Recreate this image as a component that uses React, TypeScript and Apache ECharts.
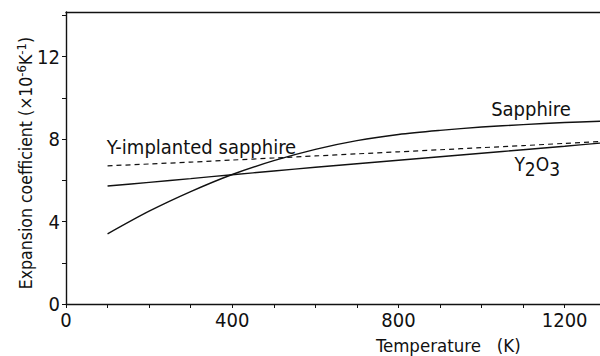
import React, { useEffect, useRef } from "react";
import * as echarts from "echarts";

// Temperature samples (K)
const temps = [100, 200, 300, 400, 500, 600, 700, 800, 900, 1000, 1100, 1200, 1285];
// Expansion coefficient (x10^-6 K^-1)
const sapphire = [3.4, 4.5, 5.45, 6.28, 6.95, 7.5, 7.92, 8.22, 8.42, 8.58, 8.7, 8.8, 8.86];
const y2o3 = [5.72, 5.9, 6.08, 6.27, 6.45, 6.63, 6.8, 6.97, 7.14, 7.31, 7.48, 7.65, 7.8];
const yImplanted = [6.7, 6.79, 6.88, 6.98, 7.08, 7.18, 7.28, 7.38, 7.48, 7.58, 7.68, 7.79, 7.88];

const xTickLabels = [0, 400, 800, 1200];
const yTickLabels = [0, 4, 8, 12];

// Annotation anchors in data space [T, value]
const sapphireLabelAt = [1119, 9.47];
const y2o3LabelAt = [1134, 6.8];
const implantedLabelAt = [326, 7.62];
const xTitleAt = [920, -2.0];

const NUM_FONT = "'Liberation Sans Narrow', 'DejaVu Sans Condensed', sans-serif";
const TXT_FONT = "'DejaVu Sans Condensed', 'DejaVu Sans', sans-serif";
const INK = "#111";

const pairs = (ys: number[]) => temps.map((t, i) => [t, ys[i]]);

export default function App() {
  const ref = useRef<HTMLDivElement>(null);

  useEffect(() => {
    if (!ref.current) return;
    const chart = echarts.init(ref.current, null, { renderer: "svg" });

    const lineStyle = { color: INK, width: 1.4 };
    chart.setOption({
      animation: false,
      backgroundColor: "#fff",
      grid: { left: 66, right: 0, top: 12, bottom: 52, containLabel: false },
      xAxis: [
        {
          type: "value",
          min: 0,
          max: 1285,
          interval: 100,
          axisLine: { show: true, onZero: false, lineStyle: { color: INK, width: 1.4 } },
          axisTick: { show: true, length: 4, lineStyle: { color: INK } },
          splitLine: { show: false },
          axisLabel: {
            color: INK,
            fontFamily: NUM_FONT,
            fontSize: 20,
            margin: 6,
            showMaxLabel: false,
            formatter: (v: number) => (xTickLabels.includes(v) ? String(v) : ""),
          },
        },
        {
          type: "value",
          position: "top",
          min: 0,
          max: 1285,
          axisLine: { show: true, onZero: false, lineStyle: { color: INK, width: 1.4 } },
          axisTick: { show: false },
          axisLabel: { show: false },
          splitLine: { show: false },
        },
      ],
      yAxis: {
        type: "value",
        min: 0,
        max: 14.16,
        interval: 2,
        axisLine: { show: true, onZero: false, lineStyle: { color: INK, width: 1.4 } },
        axisTick: { show: true, length: 4, lineStyle: { color: INK } },
        splitLine: { show: false },
        axisLabel: {
          color: INK,
          fontFamily: NUM_FONT,
          fontSize: 20,
          margin: 6,
          showMaxLabel: false,
          formatter: (v: number) => (yTickLabels.includes(v) ? String(v) : ""),
        },
        name: "Expansion coefficient (×10{sup|-6}K{sup|-1})",
        nameLocation: "middle",
        nameGap: 29,
        nameMoveOverlap: false,
        nameRotate: 90,
        nameTextStyle: {
          color: INK,
          fontFamily: TXT_FONT,
          fontSize: 17.5,
          padding: [0, 10, 0, 0],
          rich: {
            sup: { fontFamily: TXT_FONT, fontSize: 13, color: INK, padding: [0, 0, 9, 0] },
          },
        },
      },
      series: [
        {
          name: "Sapphire",
          type: "line",
          data: pairs(sapphire),
          smooth: 0.3,
          showSymbol: false,
          lineStyle: { ...lineStyle },
        },
        {
          name: "Y2O3",
          type: "line",
          data: pairs(y2o3),
          smooth: 0.3,
          showSymbol: false,
          lineStyle: { ...lineStyle },
        },
        {
          name: "Y-implanted sapphire",
          type: "line",
          data: pairs(yImplanted),
          smooth: 0.3,
          showSymbol: false,
          lineStyle: { ...lineStyle, type: [5, 4], width: 1.2 },
        },
      ],
    });

    const at = (p: number[]) => chart.convertToPixel({ gridIndex: 0 }, p) as number[];
    const s = at(sapphireLabelAt);
    const y = at(y2o3LabelAt);
    const m = at(implantedLabelAt);
    const t = at(xTitleAt);
    const labelStyle = {
      fill: INK,
      fontFamily: TXT_FONT,
      fontSize: 20,
      align: "center",
      verticalAlign: "middle",
    };
    chart.setOption({
      graphic: [
        { type: "text", x: s[0], y: s[1], style: { ...labelStyle, text: "Sapphire" } },
        {
          type: "text",
          x: y[0],
          y: y[1],
          style: {
            ...labelStyle,
            fontSize: 19,
            text: "Y{sub|2}O{sub|3}",
            rich: { sub: { fontFamily: TXT_FONT, fontSize: 19, fill: INK, padding: [10, 0, 0, 0] } },
          },
        },
        { type: "text", x: m[0], y: m[1], style: { ...labelStyle, text: "Y-implanted sapphire" } },
        {
          type: "text",
          x: t[0],
          y: t[1],
          style: { ...labelStyle, fontSize: 18.5, text: "Temperature   (K)" },
        },
      ],
    });

    return () => chart.dispose();
  }, []);

  return (
    <div
      ref={ref}
      style={{ position: "fixed", left: 0, top: 0, width: 600, height: 356, background: "#fff" }}
    />
  );
}
